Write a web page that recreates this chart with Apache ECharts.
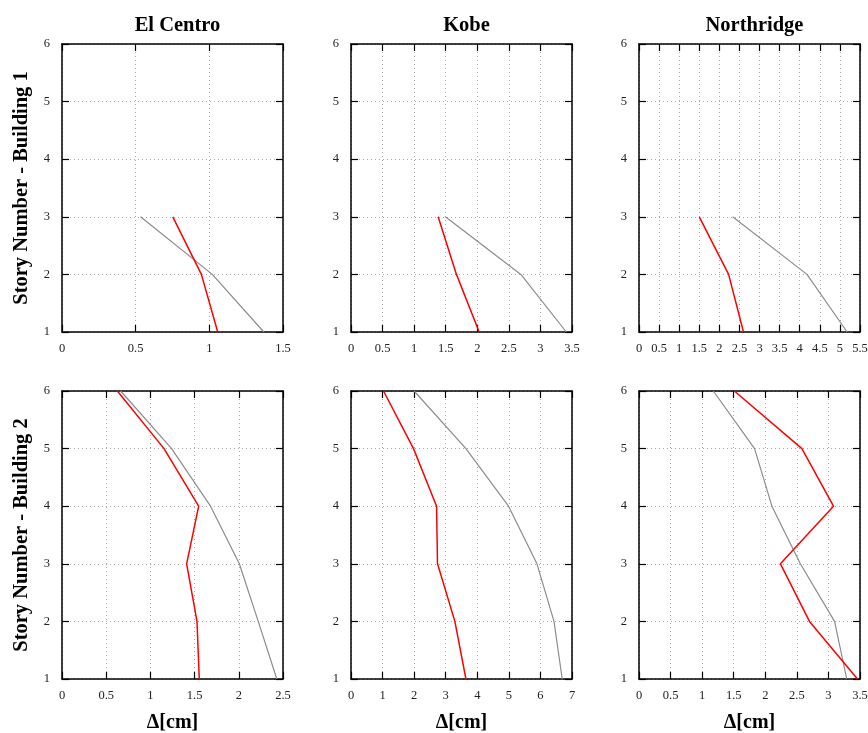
<!DOCTYPE html>
<html><head><meta charset="utf-8">
<script src="https://cdn.jsdelivr.net/npm/echarts@6/dist/echarts.min.js"></script>
<style>html,body{margin:0;padding:0;background:#fff}#c{width:868px;height:733px}</style>
</head><body><div id="c"></div>
<script>
const stories1 = [3, 2, 1];
const stories2 = [6, 5, 4, 3, 2, 1];
const titles = ['El Centro', 'Kobe', 'Northridge'];
const yNames = ['Story Number - Building 1', 'Story Number - Building 2'];
const xName = 'Δ[cm]';
const xMax = [1.5, 3.5, 5.5, 2.5, 7, 3.5];
const xStep = [0.5, 0.5, 0.5, 0.5, 1, 0.5];
// Building 1 (stories 3,2,1)
const elCentroB1Grey = [0.533, 1.02, 1.37];
const elCentroB1Red  = [0.752, 0.946, 1.057];
const kobeB1Grey = [1.495, 2.69, 3.41];
const kobeB1Red  = [1.38, 1.67, 2.03];
const northB1Grey = [2.33, 4.18, 5.18];
const northB1Red  = [1.5, 2.23, 2.6];
// Building 2 (stories 6..1)
const elCentroB2Grey = [0.664, 1.24, 1.68, 2.006, 2.22, 2.43];
const elCentroB2Red  = [0.626, 1.154, 1.546, 1.41, 1.527, 1.553];
const kobeB2Grey = [2.0, 3.64, 4.99, 5.89, 6.43, 6.69];
const kobeB2Red  = [1.03, 1.98, 2.71, 2.74, 3.29, 3.64];
const northB2Grey = [1.177, 1.83, 2.105, 2.555, 3.097, 3.29];
const northB2Red  = [1.51, 2.58, 3.08, 2.24, 2.70, 3.46];

const panels = [
  [elCentroB1Grey, elCentroB1Red, stories1],
  [kobeB1Grey, kobeB1Red, stories1],
  [northB1Grey, northB1Red, stories1],
  [elCentroB2Grey, elCentroB2Red, stories2],
  [kobeB2Grey, kobeB2Red, stories2],
  [northB2Grey, northB2Red, stories2]
];
const FONT = 'Liberation Serif';
const lefts = [62, 351, 639];
const tops = [44, 391];
const W = 221, H = 288;
const grid = [], xAxis = [], yAxis = [], series = [], title = [];
const tickStyle = {show: true, inside: true, length: 7, lineStyle: {color: '#000', width: 1.2}};
for (let i = 0; i < 6; i++) {
  const col = i % 3, row = Math.floor(i / 3);
  grid.push({left: lefts[col], top: tops[row], width: W, height: H, containLabel: false, outerBoundsMode: 'none'});
  xAxis.push({type: 'value', gridIndex: i, min: 0, max: xMax[i], interval: xStep[i], position: 'bottom',
    axisLine: {show: true, onZero: false, lineStyle: {color: '#000', width: 1.5}},
    axisTick: tickStyle,
    axisLabel: {color: '#222', fontFamily: FONT, fontSize: 12.5, margin: 10, showMaxLabel: true, showMinLabel: true},
    splitLine: {show: true, lineStyle: {color: '#aaa', type: [1, 3], width: 1}},
    name: row === 1 ? xName : '', nameLocation: 'middle', nameGap: 34,
    nameTextStyle: {fontFamily: FONT, fontWeight: 'bold', fontSize: 20, color: '#000'}});
  xAxis.push({type: 'value', gridIndex: i, min: 0, max: xMax[i], interval: xStep[i], position: 'top',
    axisLine: {show: true, onZero: false, lineStyle: {color: '#000', width: 1.5}},
    axisTick: tickStyle, axisLabel: {show: false}, splitLine: {show: false}});
  yAxis.push({type: 'value', gridIndex: i, min: 1, max: 6, interval: 1, position: 'left',
    axisLine: {show: true, onZero: false, lineStyle: {color: '#000', width: 1.5}},
    axisTick: tickStyle,
    axisLabel: {color: '#222', fontFamily: FONT, fontSize: 12.5, margin: 12},
    splitLine: {show: true, lineStyle: {color: '#aaa', type: [1, 3], width: 1}},
    name: col === 0 ? yNames[row] : '', nameLocation: 'middle', nameGap: 30, nameRotate: 90,
    nameTextStyle: {fontFamily: FONT, fontWeight: 'bold', fontSize: 20.5, color: '#000'}});
  yAxis.push({type: 'value', gridIndex: i, min: 1, max: 6, interval: 1, position: 'right',
    axisLine: {show: true, onZero: false, lineStyle: {color: '#000', width: 1.5}},
    axisTick: tickStyle, axisLabel: {show: false}, splitLine: {show: false}});
  const [g, r, s] = panels[i];
  series.push({type: 'line', xAxisIndex: 2 * i, yAxisIndex: 2 * i, symbol: 'none', silent: true,
    data: g.map((v, k) => [v, s[k]]), lineStyle: {color: '#8c8c8c', width: 1.2}});
  series.push({type: 'line', xAxisIndex: 2 * i, yAxisIndex: 2 * i, symbol: 'none', silent: true,
    data: r.map((v, k) => [v, s[k]]), lineStyle: {color: '#ff0000', width: 1.5}});
}
for (let c = 0; c < 3; c++) {
  title.push({text: titles[c], left: lefts[c] + W / 2, top: 10, textAlign: 'center',
    textStyle: {fontFamily: FONT, fontWeight: 'bold', fontSize: 20.5, color: '#000'}});
}
const chart = echarts.init(document.getElementById('c'), null, {renderer: 'canvas'});
chart.setOption({animation: false, backgroundColor: '#fff', title, grid, xAxis, yAxis, series});
</script></body></html>
